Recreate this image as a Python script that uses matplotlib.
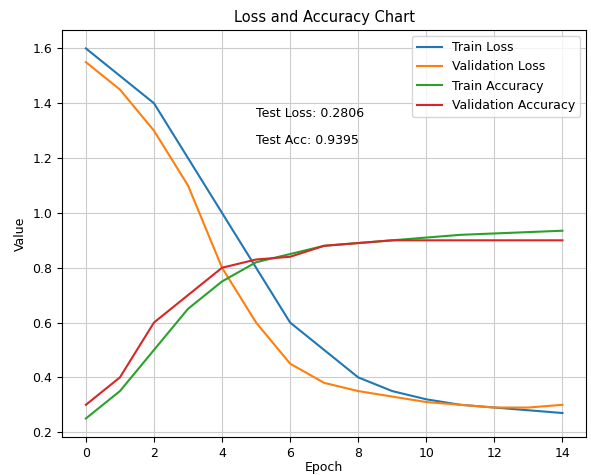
import numpy as np
import matplotlib
matplotlib.use("Agg")
import matplotlib.pyplot as plt

epochs = list(range(15))
train_loss = [1.6, 1.5, 1.4, 1.2, 1.0, 0.8, 0.6, 0.5, 0.4, 0.35, 0.32, 0.30, 0.29, 0.28, 0.27]
val_loss = [1.55, 1.45, 1.3, 1.1, 0.8, 0.6, 0.45, 0.38, 0.35, 0.33, 0.31, 0.30, 0.29, 0.29, 0.30]
train_acc = [0.25, 0.35, 0.5, 0.65, 0.75, 0.82, 0.85, 0.88, 0.89, 0.90, 0.91, 0.92, 0.925, 0.93, 0.935]
val_acc = [0.3, 0.4, 0.6, 0.7, 0.8, 0.83, 0.84, 0.88, 0.89, 0.90, 0.90, 0.90, 0.90, 0.90, 0.90]
test_loss = 0.2806
test_acc = 0.9395

fig, ax = plt.subplots(figsize=(5.91, 4.75), dpi=100)
fig.subplots_adjust(left=0.105, right=0.992, top=0.937, bottom=0.08)

ax.plot(epochs, train_loss, label='Train Loss')
ax.plot(epochs, val_loss, label='Validation Loss')
ax.plot(epochs, train_acc, label='Train Accuracy')
ax.plot(epochs, val_acc, label='Validation Accuracy')

ax.text(5, 1.35, f"Test Loss: {test_loss:.4f}", fontsize=9)
ax.text(5, 1.25, f"Test Acc: {test_acc:.4f}", fontsize=9)

ax.set_xlabel('Epoch', fontsize=9, labelpad=1)
ax.set_ylabel('Value', fontsize=9)
ax.set_title('Loss and Accuracy Chart', fontsize=10.5)
ax.tick_params(labelsize=9)
ax.grid(True, color='#cccccc')
ax.legend(fontsize=9)

plt.savefig("out.png", dpi=100)
plt.close()
